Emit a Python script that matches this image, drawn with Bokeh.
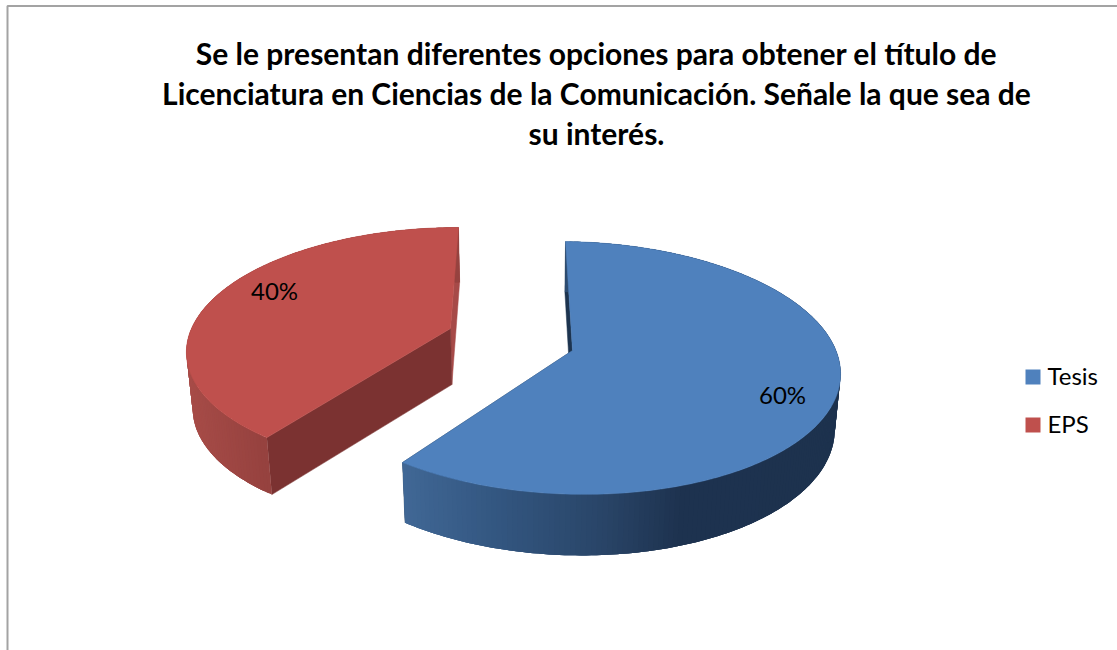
import numpy as np
from bokeh.plotting import figure
from bokeh.models import Range1d
from bokeh.core.properties import value
from bokeh.embed import file_html
from bokeh.resources import INLINE

# ---- data
categories = ["Tesis", "EPS"]
percentages = [60, 40]
title_lines = ["Se le presentan diferentes opciones para obtener el título de",
               "Licenciatura en Ciencias de la Comunicación. Señale la que sea de",
               "su interés."]

# ---- styles
top_colors = ["#4F81BD", "#BF504D"]
cut_colors = [("#1D344F", "#1D344F"), ("#7B3231", "#A64A48")]
shade_x = [[402, 500, 600, 680, 842], [187, 265, 270]]
shade_rgb = [[(65, 104, 150), (51, 86, 128), (42, 70, 105), (30, 51, 80), (29, 50, 78)],
             [(167, 76, 72), (150, 66, 63), (150, 66, 63)]]
# projective mapping of each exploded slice: a b c / d e f / g h, depth c, depth exponent
camera = [(271, 71, 572, 5.1, -75.7, 350, 0.008, 0.138, 0.0185, 1.0),
          (259, 81.7, 450, 0, -64.5, 328, 0, 0.161, 0.0186, 0.38)]
VP = (526, 3400)
label_xy = [(782, 394), (274, 290)]
legend_y = [376.5, 424.5]
legend_text_y = [375, 423]


def project(cam, X, Y):
    a, b, c, d, e, f, g, h, depth, pw = cam
    w = 1 + g * X + h * Y
    x, y = (a * X + b * Y + c) / w, (d * X + e * Y + f) / w
    t = depth / (w ** pw + depth)
    return x, y, x + t * (VP[0] - x), y + t * (VP[1] - y)


p = figure(width=1117, height=650, output_backend="svg", toolbar_location=None,
           x_range=Range1d(0, 1117), y_range=Range1d(650, 0), min_border=0,
           outline_line_color=None, background_fill_color="white", border_fill_color="white")
p.axis.visible = False
p.grid.visible = False

# frame
p.line([7, 7, 1117], [650, 5.5, 5.5], line_color="#A3A3A3", line_width=2)

total = sum(percentages)
start = 0.0
order = sorted(range(len(percentages)), key=lambda i: i, reverse=True)
spans = []
for v in percentages:
    spans.append((start, start + v / total * 360))
    start += v / total * 360

for i in order:
    cam = camera[i]
    t0, t1 = spans[i]
    th = np.radians(np.arange(t0, t1 + 0.5, 1.0))
    X, Y = np.sin(th), np.cos(th)
    x, y, xb, yb = project(cam, X, Y)
    ax, ay, axb, ayb = project(cam, 0.0, 0.0)
    # cut faces
    p.patch([x[-1], ax, axb, xb[-1]], [y[-1], ay, ayb, yb[-1]],
            fill_color=cut_colors[i][1], line_color=cut_colors[i][1], line_width=0.5)
    p.patch([x[0], ax, axb, xb[0]], [y[0], ay, ayb, yb[0]],
            fill_color=cut_colors[i][0], line_color=cut_colors[i][0], line_width=0.5)
    # outer wall: overlapping strips painted in order hide the seams
    xs, ys, cols = [], [], []
    for k in range(len(x) - 1):
        n = min(k + 3, len(x) - 1)
        xs.append([*x[k:n + 1], *xb[k:n + 1][::-1]])
        ys.append([*y[k:n + 1], *yb[k:n + 1][::-1]])
        mx = (x[k] + x[k + 1]) / 2
        rgb = [int(np.interp(mx, shade_x[i], [c[j] for c in shade_rgb[i]])) for j in range(3)]
        cols.append("#%02x%02x%02x" % tuple(rgb))
    p.patches(xs, ys, fill_color=cols, line_color=None)
    # top face
    p.patch([ax, *x], [ay, *y], fill_color=top_colors[i], line_color=top_colors[i], line_width=0.5)
    p.text([label_xy[i][0]], [label_xy[i][1]], text=[f"{percentages[i]}%"],
           text_font=value("Lato"), text_font_size="24px", text_color="#000000",
           text_align="center", text_baseline="middle")

# title
p.text([596] * 3, [52, 92, 132], text=title_lines, text_font=value("Lato"),
       text_font_size="30px", text_font_style="bold", text_color="#000000",
       text_align="center", text_baseline="middle")

# legend
p.scatter([1032.5] * 2, legend_y, marker="square", size=15, fill_color=top_colors, line_color=None)
p.text([1047] * 2, legend_text_y, text=categories, text_font=value("Lato"), text_font_size="24px",
       text_color="#000000", text_align="left", text_baseline="middle")

open("out.html", "w").write(file_html(p, INLINE))
